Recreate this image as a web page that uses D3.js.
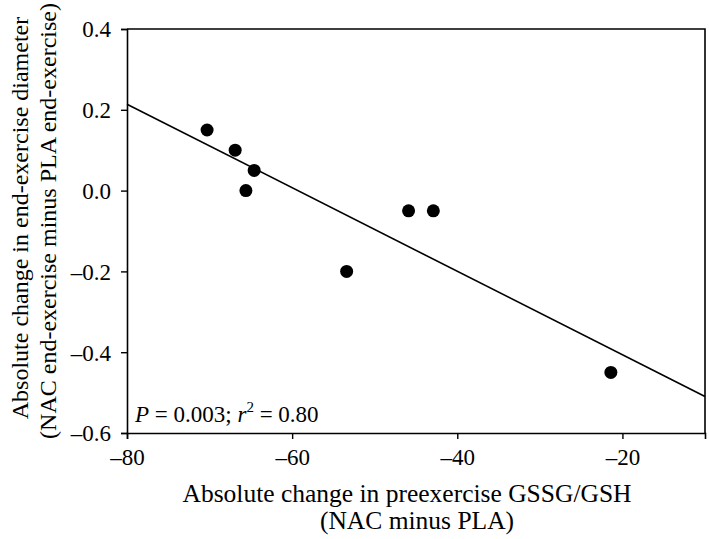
<!DOCTYPE html>
<html>
<head>
<meta charset="utf-8">
<script src="https://cdn.jsdelivr.net/npm/d3@7"></script>
<style>
  html, body { margin: 0; padding: 0; background: #fff; }
  svg { display: block; }
  text { font-family: "Liberation Serif", "Times New Roman", serif; fill: #000; }
</style>
</head>
<body>
<div id="chart"></div>
<script>
// Data
const xValues = [-70.3, -66.9, -64.6, -65.6, -53.4, -45.9, -42.9, -21.4];
const yValues = [0.15, 0.10, 0.05, 0.00, -0.20, -0.05, -0.05, -0.45];
const xTicks = [-80, -60, -40, -20];
const yTicks = [0.4, 0.2, 0.0, -0.2, -0.4, -0.6];
const xDomain = [-80, -10];
const yDomain = [-0.6, 0.4];
const xTitleLines = ["Absolute change in preexercise GSSG/GSH", "(NAC minus PLA)"];
const yTitleLines = ["Absolute change in end-exercise diameter", "(NAC end-exercise minus PLA end-exercise)"];

const W = 709, H = 539;
const margin = { left: 127, top: 29, right: 4, bottom: 106 };
const iw = W - margin.left - margin.right;
const ih = H - margin.top - margin.bottom;
const FONT = '"Liberation Serif", "Times New Roman", serif';

const svg = d3.select("#chart").append("svg").attr("width", W).attr("height", H);
const g = svg.append("g").attr("transform", `translate(${margin.left},${margin.top})`);

const x = d3.scaleLinear().domain(xDomain).range([0, iw]);
const y = d3.scaleLinear().domain(yDomain).range([ih, 0]);

const dash = s => s.replace(/[-\u2212]/g, "\u2013");

// Frame (top and right)
g.append("path")
  .attr("d", `M0,0H${iw}V${ih}`)
  .attr("fill", "none").attr("stroke", "#000").attr("stroke-width", 1.6);

// Axes
const xAxis = g.append("g").attr("transform", `translate(0,${ih})`)
  .call(d3.axisBottom(x).tickValues(xTicks).tickSizeOuter(0).tickSize(6).tickPadding(10)
    .tickFormat(d => dash(d3.format("d")(d))));
const yAxis = g.append("g")
  .call(d3.axisLeft(y).tickValues(yTicks).tickSizeOuter(0).tickSize(6).tickPadding(10)
    .tickFormat(d => dash(d3.format(".1f")(d))));
[xAxis, yAxis].forEach(a => {
  a.attr("font-family", FONT).attr("font-size", 23);
  a.select(".domain").attr("stroke", "#000").attr("stroke-width", 1.6);
  a.selectAll(".tick line").attr("stroke", "#000").attr("stroke-width", 1.4);
  a.selectAll(".tick text").style("font-family", FONT).style("font-size", "23px").attr("fill", "#000");
});
yAxis.selectAll(".tick text").attr("dy", "0.34em");

// Regression line (least squares through the points)
const n = xValues.length;
const mx = d3.mean(xValues), my = d3.mean(yValues);
let sxy = 0, sxx = 0;
for (let i = 0; i < n; i++) { sxy += (xValues[i] - mx) * (yValues[i] - my); sxx += (xValues[i] - mx) ** 2; }
const slope = sxy / sxx, intercept = my - slope * mx;
g.append("line")
  .attr("x1", x(xDomain[0])).attr("y1", y(intercept + slope * xDomain[0]))
  .attr("x2", x(xDomain[1])).attr("y2", y(intercept + slope * xDomain[1]))
  .attr("stroke", "#000").attr("stroke-width", 1.6);

// Points
g.selectAll("circle.pt").data(xValues.map((v, i) => [v, yValues[i]])).join("circle")
  .attr("class", "pt")
  .attr("cx", d => x(d[0])).attr("cy", d => y(d[1])).attr("r", 6.5).attr("fill", "#000");

// Annotation
const ann = g.append("text").attr("x", 8).attr("y", ih - 11).style("font-size", "23px");
ann.append("tspan").attr("font-style", "italic").text("P");
ann.append("tspan").text(" = 0.003; ");
ann.append("tspan").attr("font-style", "italic").text("r");
ann.append("tspan").attr("dy", -10).style("font-size", "15px").text("2");
ann.append("tspan").attr("dy", 10).text(" = 0.80");

// X title
svg.append("text").attr("x", 407).attr("y", 502).attr("text-anchor", "middle")
  .style("font-size", "25.5px").text(xTitleLines[0]);
svg.append("text").attr("x", 417).attr("y", 529).attr("text-anchor", "middle")
  .style("font-size", "25.5px").text(xTitleLines[1]);

// Y title
svg.append("text").attr("transform", "translate(28,218) rotate(-90)").attr("text-anchor", "middle")
  .style("font-size", "24px").text(yTitleLines[0]);
svg.append("text").attr("transform", "translate(56,221) rotate(-90)").attr("text-anchor", "middle")
  .style("font-size", "24px").text(yTitleLines[1]);
</script>
</body>
</html>
